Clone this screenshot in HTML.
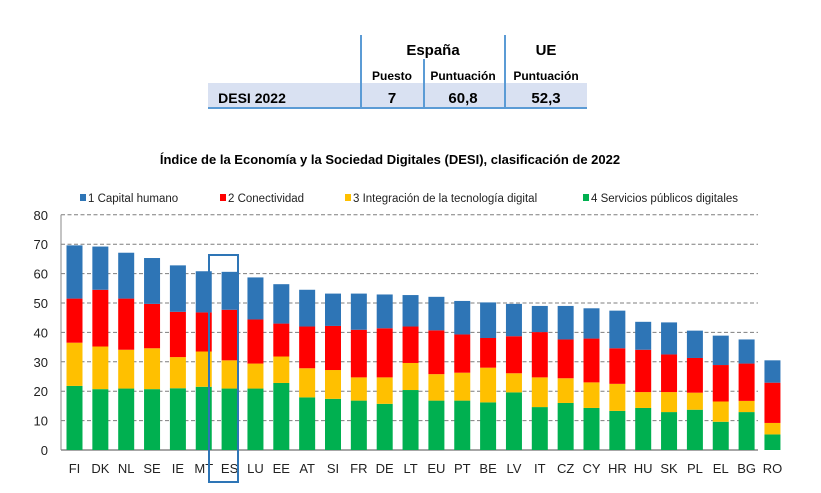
<!DOCTYPE html>
<html><head><meta charset="utf-8"><style>
body{margin:0;background:#fff;font-family:"Liberation Sans",sans-serif;}
svg text{font-family:"Liberation Sans",sans-serif;}
</style></head><body>
<svg width="821" height="488" viewBox="0 0 821 488">
<g>
<rect x="208" y="83" width="379" height="25" fill="#d9e1f2"/>
<line x1="208" y1="108" x2="587" y2="108" stroke="#5b9bd5" stroke-width="2"/>
<line x1="361" y1="35" x2="361" y2="108" stroke="#5b9bd5" stroke-width="2"/>
<line x1="424" y1="59" x2="424" y2="108" stroke="#5b9bd5" stroke-width="2"/>
<line x1="505" y1="35" x2="505" y2="108" stroke="#5b9bd5" stroke-width="2"/>
<g font-weight="bold" text-anchor="middle" fill="#000">
<text x="433" y="55" font-size="15">España</text>
<text x="546" y="55" font-size="15">UE</text>
<text x="392" y="80" font-size="12">Puesto</text>
<text x="463" y="80" font-size="12">Puntuación</text>
<text x="546" y="80" font-size="12">Puntuación</text>
<text x="252" y="103" font-size="14">DESI 2022</text>
<text x="392" y="103" font-size="15">7</text>
<text x="463" y="103" font-size="15">60,8</text>
<text x="546" y="103" font-size="15">52,3</text>
</g></g>
<text x="390" y="164" font-size="13" font-weight="bold" text-anchor="middle">Índice de la Economía y la Sociedad Digitales (DESI), clasificación de 2022</text>
<g id="legend" font-size="11.5" fill="#222"></g>
<g id="grid"></g>
<g id="bars"></g>
<g id="xlabels" font-size="13" fill="#222" text-anchor="middle"></g>
<rect x="209" y="255" width="29" height="227" fill="none" stroke="#2e75b6" stroke-width="2"/>
</svg>
<script>
const categories=["FI","DK","NL","SE","IE","MT","ES","LU","EE","AT","SI","FR","DE","LT","EU","PT","BE","LV","IT","CZ","CY","HR","HU","SK","PL","EL","BG","RO"];
const servicios=[21.8,20.7,20.9,20.7,21,21.5,20.9,20.9,22.8,17.9,17.4,16.8,15.7,20.4,16.8,16.8,16.2,19.6,14.6,16,14.3,13.3,14.3,12.9,13.7,9.6,12.9,5.3];
const integracion=[14.7,14.5,13.2,13.9,10.6,12,9.6,8.5,9,9.9,9.8,7.9,9,9.2,9,9.5,11.8,6.5,10.1,8.4,8.7,9.2,5.4,6.8,5.8,6.9,3.8,3.9];
const conectividad=[15,19.3,17.4,15.1,15.4,13.3,17.2,15,11.2,14.2,15,16.2,16.7,12.4,14.9,13,10.1,12.6,15.4,13.2,14.9,12.1,14.4,12.8,11.8,12.4,12.7,13.7];
const capital=[18.1,14.7,15.6,15.6,15.8,14,12.9,14.3,13.4,12.5,11,12.3,11.5,10.7,11.4,11.4,12.1,11,8.9,11.4,10.3,12.8,9.5,10.9,9.3,10,8.2,7.6];
const yTicks=[0,10,20,30,40,50,60,70,80];
const seriesNames=["1 Capital humano","2 Conectividad","3 Integración de la tecnología digital","4 Servicios públicos digitales"];
const colors=["#2e75b6","#ff0000","#ffc000","#00b050"];
const NS="http://www.w3.org/2000/svg";
const y0=450,pxPer=29.4/10,left=61,right=758,x0=74.5,step=25.85,bw=16;
const Y=v=>y0-v*pxPer, X=i=>x0+i*step;
function mk(tag,attrs,parent){const e=document.createElementNS(NS,tag);for(const k in attrs)e.setAttribute(k,attrs[k]);parent.appendChild(e);return e;}
const grid=document.getElementById('grid');
yTicks.forEach(t=>{
 if(t>0){const l=mk('line',{x1:left,x2:right,y1:Y(t),y2:Y(t),stroke:'#7f7f7f','stroke-dasharray':'4,2.5'},grid);
 
 }
 const tx=mk('text',{x:48,y:Y(t)+5,'font-size':13,'text-anchor':'end',fill:'#222'},grid);tx.textContent=t;
 
 
});
const ax=mk('line',{x1:left,x2:right,y1:y0,y2:y0,stroke:'#888','stroke-width':1.5},grid);


const ay=mk('line',{x1:left,x2:left,y1:Y(80),y2:y0,stroke:'#888','stroke-width':1},grid);


const bars=document.getElementById('bars'),xl=document.getElementById('xlabels');
categories.forEach((c,i)=>{
 const stack=[[servicios[i],colors[3]],[integracion[i],colors[2]],[conectividad[i],colors[1]],[capital[i],colors[0]]];
 let base=0;
 stack.forEach(([v,col])=>{
  const r=mk('rect',{x:X(i)-bw/2,y:Y(base+v),width:bw,height:v*pxPer,fill:col},bars);
  
  
  base+=v;
 });
 const t=mk('text',{x:X(i),y:473},xl);t.textContent=c;
 
 
});
const lg=document.getElementById('legend');
const lx=[80,220,345,583];
seriesNames.forEach((n,k)=>{
 const r=mk('rect',{x:lx[k],y:194,width:6,height:7,fill:colors[k]},lg);
 
 
 const t=mk('text',{x:lx[k]+8,y:202},lg);t.textContent=n;
 
 
});
</script>
</body></html>
